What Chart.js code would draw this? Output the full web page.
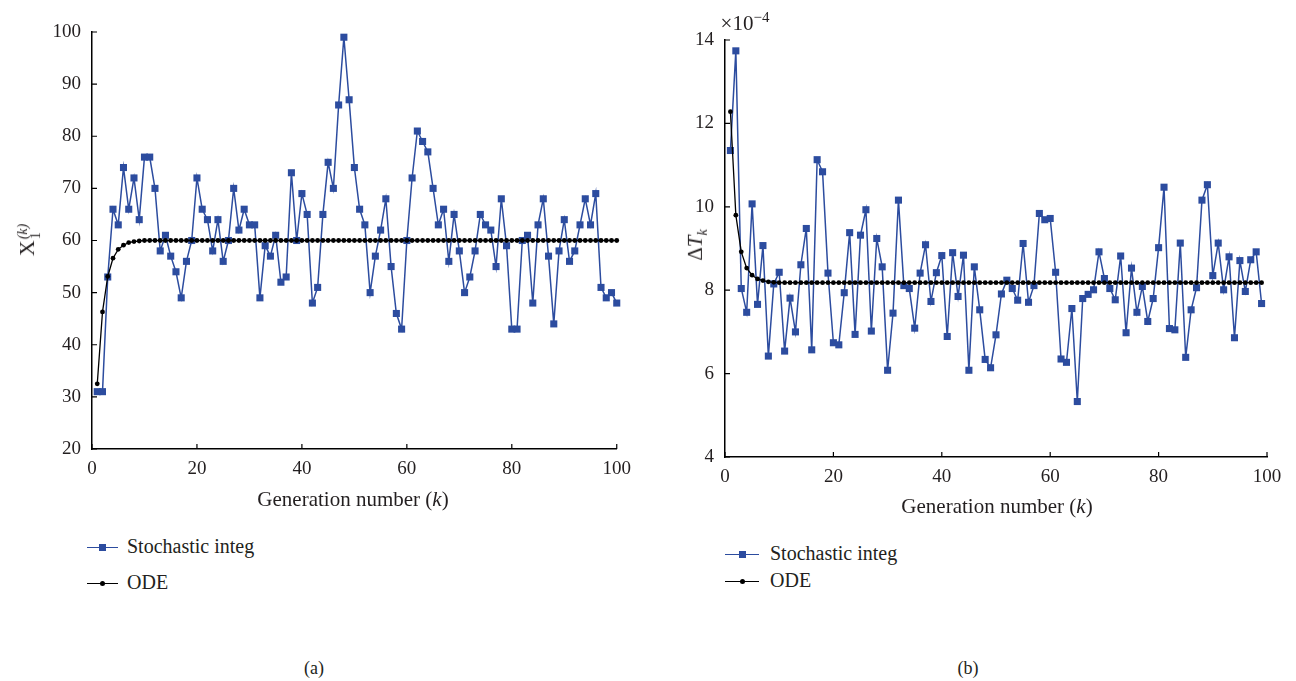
<!DOCTYPE html>
<html>
<head>
<meta charset="utf-8">
<script src="https://cdn.jsdelivr.net/npm/chart.js@4.4.1/dist/chart.umd.min.js"></script>
<style>
  body { margin: 0; background: #fff; width: 1296px; height: 681px; position: relative; overflow: hidden;
         font-family: "Liberation Serif", "DejaVu Serif", serif; color: #231f20; }
  canvas { position: absolute; top: 0; }
  .txt { position: absolute; white-space: nowrap; transform: translate(-50%, -50%); }
  .rot { transform: translate(-50%, -50%) rotate(-90deg); }
  .ss { display: inline-flex; flex-direction: column; vertical-align: middle; font-size: 14px; line-height: 13px; margin-left: 1px; }
  .leg { position: absolute; font-size: 20px; white-space: nowrap; }
  .leg .ln { position: absolute; top: 50%; height: 0; }
  .leg .mk { position: absolute; top: 50%; }
</style>
</head>
<body>
<canvas id="chartA" width="640" height="500" style="left:0"></canvas>
<canvas id="chartB" width="648" height="510" style="left:648px"></canvas>

<div class="txt rot" style="left:28px; top:240px; font-size:22px;">X<span class="ss"><i>(k)</i><span>1</span></span></div>
<div class="txt" style="left:353px; top:499px; font-size:21px;">Generation number (<i>k</i>)</div>

<div class="txt rot" style="left:697px; top:245px; font-size:21px;">Δ<i>T</i><sub style="font-size:14px"><i>k</i></sub></div>
<div class="txt" style="left:745px; top:22px; font-size:21px;">×10<sup style="font-size:15px">−4</sup></div>
<div class="txt" style="left:997px; top:506px; font-size:21px;">Generation number (<i>k</i>)</div>

<!-- legends -->
<div class="leg" style="left:87px; top:535px; height:24px; width:220px;">
  <div class="ln" style="left:0; width:31px; border-top:1.5px solid #2c4c9f;"></div>
  <div class="mk" style="left:12px; margin-top:-3.5px; width:7px; height:7px; background:#2c4c9f;"></div>
  <span style="position:absolute; left:40px; top:0;">Stochastic integ</span>
</div>
<div class="leg" style="left:87px; top:571px; height:24px; width:220px;">
  <div class="ln" style="left:0; width:31px; border-top:1.5px solid #000;"></div>
  <div class="mk" style="left:13px; margin-top:-2.5px; width:5px; height:5px; border-radius:50%; background:#000;"></div>
  <span style="position:absolute; left:40px; top:0;">ODE</span>
</div>
<div class="leg" style="left:725px; top:542px; height:24px; width:220px;">
  <div class="ln" style="left:0; width:34px; border-top:1.5px solid #2c4c9f;"></div>
  <div class="mk" style="left:14px; margin-top:-3.5px; width:7px; height:7px; background:#2c4c9f;"></div>
  <span style="position:absolute; left:45px; top:0;">Stochastic integ</span>
</div>
<div class="leg" style="left:725px; top:569px; height:24px; width:220px;">
  <div class="ln" style="left:0; width:34px; border-top:1.5px solid #000;"></div>
  <div class="mk" style="left:15px; margin-top:-2.5px; width:5px; height:5px; border-radius:50%; background:#000;"></div>
  <span style="position:absolute; left:45px; top:0;">ODE</span>
</div>

<div class="txt" style="left:314px; top:668px; font-size:18px;">(a)</div>
<div class="txt" style="left:968px; top:668px; font-size:18px;">(b)</div>

<script>
// (a) population X1 per generation k = 1..100
const stochX1 = [31, 31, 53, 66, 63, 74, 66, 72, 64, 76,
  76, 70, 58, 61, 57, 54, 49, 56, 60, 72,
  66, 64, 58, 64, 56, 60, 70, 62, 66, 63,
  63, 49, 59, 57, 61, 52, 53, 73, 60, 69,
  65, 48, 51, 65, 75, 70, 86, 99, 87, 74,
  66, 63, 50, 57, 62, 68, 55, 46, 43, 60,
  72, 81, 79, 77, 70, 63, 66, 56, 65, 58,
  50, 53, 58, 65, 63, 62, 55, 68, 59, 43,
  43, 60, 61, 48, 63, 68, 57, 44, 58, 64,
  56, 58, 63, 68, 63, 69, 51, 49, 50, 48];
const odeX1 = [32.5, 46.3, 53.1, 56.6, 58.3, 59.1, 59.6, 59.8, 59.9, 60,
  60, 60, 60, 60, 60, 60, 60, 60, 60, 60,
  60, 60, 60, 60, 60, 60, 60, 60, 60, 60,
  60, 60, 60, 60, 60, 60, 60, 60, 60, 60,
  60, 60, 60, 60, 60, 60, 60, 60, 60, 60,
  60, 60, 60, 60, 60, 60, 60, 60, 60, 60,
  60, 60, 60, 60, 60, 60, 60, 60, 60, 60,
  60, 60, 60, 60, 60, 60, 60, 60, 60, 60,
  60, 60, 60, 60, 60, 60, 60, 60, 60, 60,
  60, 60, 60, 60, 60, 60, 60, 60, 60, 60];

// (b) time step dT_k, in units of 1e-4, k = 1..99
const stochDT = [11.35, 13.74, 8.04, 7.47, 10.07, 7.66, 9.07, 6.42, 8.15, 8.43,
  6.54, 7.81, 7.00, 8.61, 9.48, 6.57, 11.13, 10.84, 8.41, 6.74,
  6.69, 7.94, 9.38, 6.94, 9.32, 9.93, 7.02, 9.24, 8.56, 6.08,
  7.45, 10.16, 8.11, 8.04, 7.09, 8.41, 9.09, 7.73, 8.42, 8.83,
  6.89, 8.90, 7.85, 8.84, 6.08, 8.56, 7.53, 6.34, 6.14, 6.93,
  7.91, 8.24, 8.04, 7.76, 9.12, 7.71, 8.11, 9.84, 9.69, 9.72,
  8.43, 6.35, 6.27, 7.56, 5.33, 7.80, 7.90, 8.01, 8.92, 8.28,
  8.04, 7.77, 8.82, 6.98, 8.53, 7.47, 8.09, 7.25, 7.80, 9.02,
  10.47, 7.08, 7.05, 9.13, 6.39, 7.53, 8.06, 10.16, 10.53, 8.35,
  9.13, 8.01, 8.80, 6.86, 8.71, 7.97, 8.73, 8.92, 7.68];
const odeDT = [12.28, 9.80, 8.92, 8.53, 8.36, 8.27, 8.23, 8.20, 8.19, 8.18,
  8.18, 8.18, 8.18, 8.18, 8.18, 8.18, 8.18, 8.18, 8.18, 8.18,
  8.18, 8.18, 8.18, 8.18, 8.18, 8.18, 8.18, 8.18, 8.18, 8.18,
  8.18, 8.18, 8.18, 8.18, 8.18, 8.18, 8.18, 8.18, 8.18, 8.18,
  8.18, 8.18, 8.18, 8.18, 8.18, 8.18, 8.18, 8.18, 8.18, 8.18,
  8.18, 8.18, 8.18, 8.18, 8.18, 8.18, 8.18, 8.18, 8.18, 8.18,
  8.18, 8.18, 8.18, 8.18, 8.18, 8.18, 8.18, 8.18, 8.18, 8.18,
  8.18, 8.18, 8.18, 8.18, 8.18, 8.18, 8.18, 8.18, 8.18, 8.18,
  8.18, 8.18, 8.18, 8.18, 8.18, 8.18, 8.18, 8.18, 8.18, 8.18,
  8.18, 8.18, 8.18, 8.18, 8.18, 8.18, 8.18, 8.18, 8.18];

const BLUE = '#2c4c9f';
const FONT = '"Liberation Serif", "DejaVu Serif", serif';
Chart.defaults.font.family = FONT;

const toPts = (arr) => arr.map((v, i) => ({ x: i + 1, y: v }));

// tick marks point inward, like the original figure
const insideTicks = {
  id: 'insideTicks',
  afterDraw(chart) {
    const { ctx, chartArea, scales } = chart;
    ctx.save();
    ctx.strokeStyle = '#000';
    ctx.lineWidth = 1.2;
    ctx.beginPath();
    scales.x.ticks.forEach(t => {
      const px = scales.x.getPixelForValue(t.value);
      ctx.moveTo(px, chartArea.bottom);
      ctx.lineTo(px, chartArea.bottom - 5);
    });
    scales.y.ticks.forEach(t => {
      const py = scales.y.getPixelForValue(t.value);
      ctx.moveTo(chartArea.left, py);
      ctx.lineTo(chartArea.left + 5, py);
    });
    ctx.stroke();
    ctx.restore();
  }
};

function makeChart(id, stoch, ode, yMin, yMax, yStep, yAxisW, xAxisH, pad) {
  return new Chart(document.getElementById(id), {
    type: 'line',
    data: {
      datasets: [
        {
          label: 'ODE',
          data: toPts(ode),
          borderColor: '#000',
          backgroundColor: '#000',
          borderWidth: 1.3,
          pointStyle: 'circle',
          pointRadius: 2.4,
          pointBorderWidth: 0,
          tension: 0,
          order: 0,
          clip: false
        },
        {
          label: 'Stochastic integ',
          data: toPts(stoch),
          borderColor: BLUE,
          backgroundColor: BLUE,
          borderWidth: 1.5,
          pointStyle: 'rect',
          pointRadius: 5,
          pointBorderWidth: 0,
          tension: 0,
          order: 1,
          clip: false
        }
      ]
    },
    options: {
      responsive: false,
      animation: false,
      devicePixelRatio: 1,
      layout: { padding: pad },
      plugins: { legend: { display: false }, tooltip: { enabled: false } },
      scales: {
        x: {
          type: 'linear',
          min: 0, max: 100,
          grid: { display: false, drawTicks: false },
          border: { display: true, color: '#000', width: 1.5 },
          ticks: { stepSize: 20, padding: 9, color: '#231f20', font: { family: FONT, size: 19 } },
          afterFit: (s) => { s.height = xAxisH; }
        },
        y: {
          min: yMin, max: yMax,
          grid: { display: false, drawTicks: false },
          border: { display: true, color: '#000', width: 1.5 },
          ticks: { stepSize: yStep, padding: 11, color: '#231f20', font: { family: FONT, size: 19 } },
          afterFit: (s) => { s.width = yAxisW; }
        }
      }
    },
    plugins: [insideTicks]
  });
}

makeChart('chartA', stochX1, odeX1, 20, 100, 10, 92, 51, { top: 32, right: 23, bottom: 0, left: 0 });
makeChart('chartB', stochDT, odeDT, 4, 14, 2, 77, 53, { top: 40, right: 29, bottom: 0, left: 0 });
</script>
</body>
</html>
